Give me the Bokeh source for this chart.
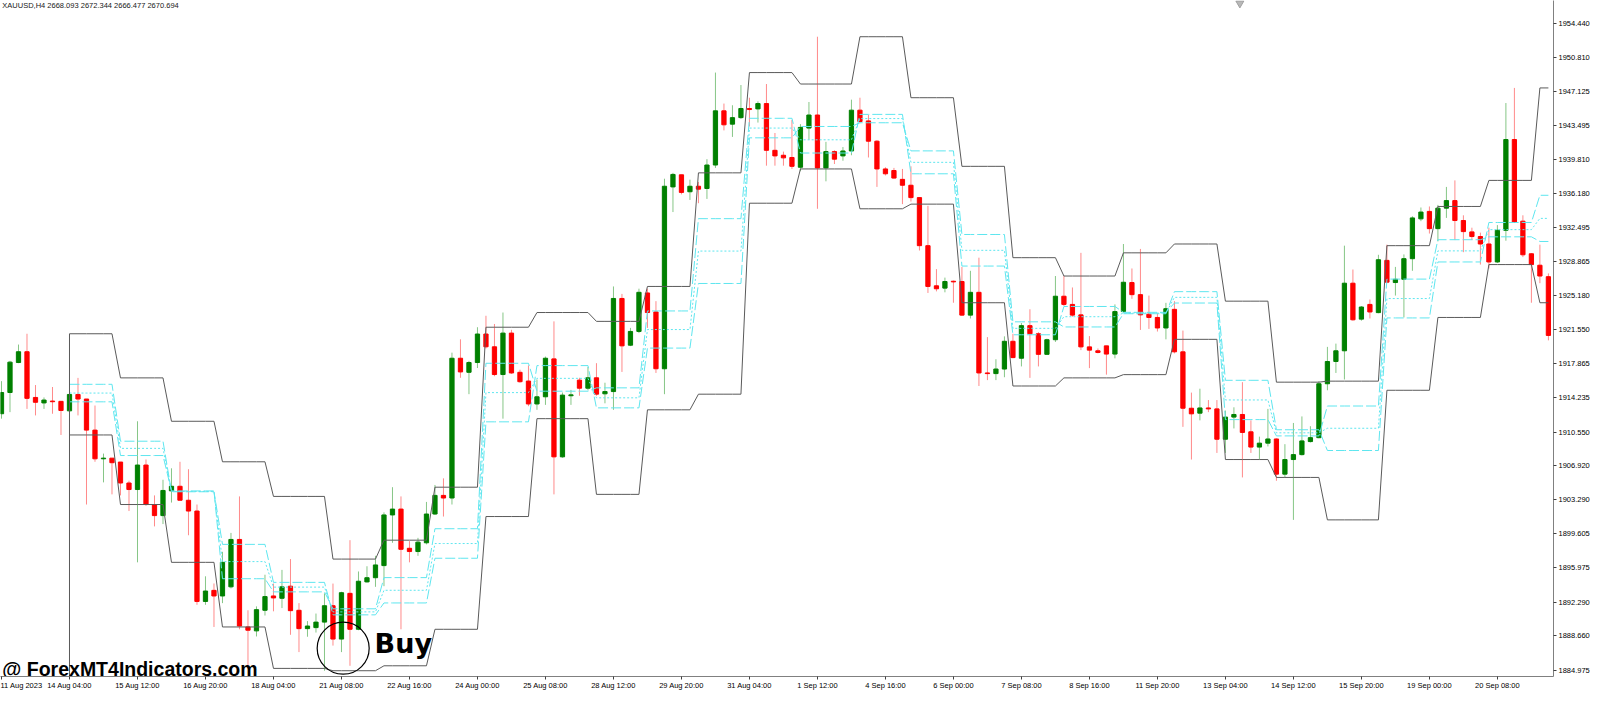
from bokeh.plotting import figure
from bokeh.models import Range1d, FixedTicker, LinearAxis, Label, PrintfTickFormatter, ColumnDataSource
from bokeh.embed import file_html
from bokeh.resources import INLINE
from bokeh.core.properties import value

# ---------------- data (XAUUSD H4) ----------------
opens = [
1912.52, 1914.80, 1918.02, 1919.18, 1914.27, 1913.68, 1913.88, 1913.85, 1912.83, 1914.59,
1914.10, 1910.76, 1907.68, 1907.75, 1907.33, 1905.08, 1904.38, 1907.01, 1902.77, 1901.58,
1904.24, 1904.73, 1903.23, 1902.07, 1892.36, 1893.55, 1892.95, 1893.93, 1899.02, 1889.62,
1889.20, 1891.41, 1892.95, 1892.70, 1894.00, 1891.41, 1889.44, 1889.55, 1890.14, 1891.90,
1888.32, 1893.23, 1889.37, 1894.46, 1894.91, 1896.21, 1901.65, 1902.28, 1898.07, 1897.72,
1898.66, 1901.75, 1903.75, 1903.47, 1918.48, 1916.97, 1918.02, 1921.08, 1919.71, 1916.73,
1921.18, 1916.97, 1916.03, 1913.57, 1914.34, 1918.41, 1907.89, 1914.45, 1916.13, 1915.26,
1916.38, 1914.66, 1914.90, 1924.90, 1919.88, 1921.36, 1925.49, 1923.45, 1917.35, 1936.88,
1938.18, 1936.36, 1936.95, 1936.71, 1939.23, 1945.05, 1943.62, 1944.32, 1945.30, 1945.26,
1945.83, 1940.81, 1940.28, 1940.04, 1938.99, 1943.20, 1944.60, 1938.92, 1940.67, 1940.21,
1940.74, 1945.12, 1943.97, 1941.79, 1938.81, 1938.64, 1937.69, 1937.06, 1935.73, 1930.57,
1926.26, 1926.01, 1926.75, 1926.72, 1923.11, 1925.56, 1916.90, 1916.83, 1917.32, 1920.30,
1918.48, 1921.98, 1921.11, 1918.90, 1920.47, 1925.14, 1924.26, 1923.14, 1919.70, 1919.28,
1919.81, 1918.93, 1923.49, 1926.61, 1925.31, 1923.21, 1922.86, 1921.73, 1923.73, 1919.17,
1913.11, 1912.58, 1913.14, 1913.04, 1909.78, 1912.16, 1912.44, 1910.58, 1908.94, 1909.36,
1909.81, 1906.03, 1907.60, 1908.13, 1909.53, 1909.95, 1915.74, 1918.13, 1919.28, 1926.54,
1922.68, 1924.26, 1923.38, 1928.99, 1926.61, 1926.96, 1929.17, 1933.45, 1934.25, 1932.40,
1934.60, 1935.41, 1933.27, 1932.05, 1931.55, 1930.75, 1928.82, 1932.22, 1941.97, 1933.20,
1929.70, 1928.47, 1927.24]

highs = [
1916.02, 1918.20, 1919.95, 1921.11, 1915.60, 1914.27, 1915.39, 1913.85, 1914.69, 1916.37,
1914.10, 1913.40, 1908.24, 1907.75, 1907.33, 1905.33, 1911.71, 1907.61, 1903.75, 1905.43,
1906.66, 1907.36, 1906.56, 1902.77, 1895.06, 1894.29, 1897.69, 1899.72, 1903.64, 1891.41,
1891.83, 1895.23, 1894.28, 1895.75, 1896.91, 1892.18, 1890.25, 1891.06, 1893.23, 1894.28,
1893.40, 1898.94, 1895.58, 1896.14, 1897.26, 1901.93, 1904.63, 1903.64, 1898.84, 1899.19,
1903.05, 1904.87, 1905.58, 1919.08, 1920.51, 1918.20, 1921.81, 1923.04, 1922.16, 1923.39,
1921.53, 1917.25, 1917.71, 1916.20, 1918.66, 1922.44, 1914.80, 1915.08, 1916.38, 1917.53,
1917.95, 1915.85, 1926.19, 1925.39, 1921.74, 1925.95, 1925.95, 1924.61, 1937.76, 1938.39,
1938.18, 1937.66, 1937.41, 1939.86, 1949.16, 1945.83, 1945.65, 1947.82, 1946.46, 1946.07,
1947.93, 1942.67, 1940.67, 1944.07, 1943.62, 1946.00, 1953.01, 1941.72, 1940.81, 1941.16,
1946.25, 1946.46, 1944.60, 1941.90, 1938.99, 1938.92, 1938.81, 1939.09, 1935.73, 1934.85,
1928.05, 1927.14, 1926.82, 1928.29, 1927.87, 1929.28, 1920.75, 1918.37, 1920.83, 1921.11,
1922.26, 1923.74, 1921.28, 1920.58, 1927.31, 1927.31, 1926.08, 1929.80, 1920.86, 1919.53,
1919.81, 1924.26, 1930.75, 1928.12, 1930.22, 1925.21, 1923.31, 1924.43, 1924.61, 1921.45,
1914.79, 1915.21, 1913.99, 1913.99, 1912.86, 1913.21, 1915.91, 1911.81, 1910.06, 1913.04,
1909.88, 1909.25, 1911.53, 1912.23, 1911.18, 1916.02, 1919.70, 1920.05, 1930.57, 1928.01,
1924.09, 1924.79, 1929.59, 1930.68, 1928.29, 1929.63, 1933.73, 1934.67, 1934.78, 1934.95,
1936.88, 1937.58, 1933.83, 1932.50, 1931.97, 1932.50, 1932.78, 1945.89, 1947.51, 1933.83,
1929.77, 1930.68, 1927.59]

lows = [
1911.99, 1912.69, 1917.95, 1913.04, 1912.34, 1913.04, 1912.52, 1910.24, 1912.76, 1912.34,
1902.77, 1907.36, 1905.15, 1903.86, 1903.75, 1902.07, 1896.56, 1902.63, 1900.42, 1900.67,
1902.98, 1903.23, 1899.47, 1892.00, 1892.00, 1889.62, 1892.18, 1893.76, 1889.37, 1885.17,
1888.60, 1890.85, 1891.30, 1891.65, 1888.78, 1886.92, 1888.57, 1889.02, 1884.92, 1887.62,
1886.92, 1885.45, 1889.27, 1894.39, 1893.93, 1894.00, 1898.66, 1889.37, 1896.56, 1897.26,
1898.49, 1901.65, 1901.48, 1902.77, 1916.38, 1914.62, 1917.43, 1919.53, 1916.55, 1911.99,
1916.80, 1915.85, 1913.33, 1912.94, 1913.47, 1903.86, 1907.79, 1913.47, 1914.45, 1915.04,
1914.45, 1913.64, 1912.94, 1917.01, 1919.78, 1921.18, 1921.74, 1916.90, 1914.62, 1934.18,
1936.08, 1935.48, 1935.13, 1935.59, 1938.92, 1942.95, 1942.25, 1944.18, 1943.37, 1943.79,
1939.16, 1939.16, 1939.16, 1938.81, 1938.57, 1941.97, 1934.53, 1937.48, 1939.34, 1939.69,
1940.28, 1943.72, 1940.04, 1936.88, 1938.11, 1937.76, 1935.03, 1935.31, 1930.05, 1925.49,
1925.66, 1925.56, 1924.44, 1923.03, 1922.75, 1915.50, 1916.13, 1916.13, 1916.44, 1918.48,
1917.60, 1916.37, 1917.60, 1918.90, 1920.23, 1924.09, 1922.93, 1919.35, 1917.42, 1919.00,
1916.72, 1918.47, 1923.38, 1924.86, 1921.52, 1921.63, 1921.35, 1920.51, 1919.00, 1911.11,
1907.60, 1911.81, 1912.69, 1908.31, 1908.31, 1910.94, 1905.68, 1908.31, 1907.60, 1909.01,
1905.32, 1905.68, 1901.12, 1908.03, 1909.43, 1909.88, 1915.04, 1916.90, 1916.20, 1922.51,
1922.51, 1922.75, 1923.31, 1926.54, 1925.21, 1922.86, 1927.87, 1933.20, 1931.87, 1931.03,
1933.55, 1931.17, 1929.87, 1931.17, 1928.54, 1928.12, 1928.71, 1931.10, 1933.03, 1929.34,
1924.44, 1926.54, 1920.40]

closes = [
1914.80, 1918.06, 1919.18, 1914.17, 1913.75, 1913.99, 1913.81, 1912.87, 1914.59, 1914.10,
1910.76, 1907.68, 1907.75, 1907.26, 1905.08, 1904.38, 1907.01, 1902.77, 1901.58, 1904.28,
1904.73, 1903.23, 1902.07, 1892.36, 1893.48, 1892.95, 1896.56, 1899.02, 1889.72, 1889.27,
1891.48, 1892.88, 1892.74, 1893.93, 1891.37, 1889.44, 1889.72, 1890.14, 1891.90, 1888.32,
1893.30, 1889.37, 1894.53, 1894.91, 1896.28, 1901.65, 1902.28, 1897.96, 1897.72, 1898.73,
1901.75, 1903.75, 1903.47, 1918.48, 1917.01, 1918.02, 1921.08, 1919.71, 1916.73, 1921.18,
1916.90, 1915.96, 1913.57, 1914.34, 1918.48, 1907.89, 1914.52, 1914.55, 1915.26, 1916.38,
1914.62, 1914.90, 1924.90, 1919.81, 1921.36, 1925.56, 1923.39, 1917.35, 1936.95, 1938.22,
1936.29, 1936.95, 1936.64, 1939.23, 1945.05, 1943.55, 1944.32, 1945.30, 1945.19, 1945.83,
1940.81, 1940.21, 1940.00, 1939.09, 1943.27, 1944.60, 1938.92, 1940.67, 1939.86, 1940.74,
1945.12, 1943.90, 1941.79, 1938.81, 1938.29, 1937.83, 1937.06, 1935.73, 1930.57, 1926.19,
1925.94, 1926.72, 1926.68, 1923.11, 1925.56, 1916.90, 1916.83, 1917.32, 1920.30, 1918.55,
1921.98, 1921.11, 1918.90, 1920.47, 1925.14, 1924.26, 1923.11, 1919.70, 1919.35, 1919.10,
1918.93, 1923.49, 1926.64, 1925.31, 1923.14, 1922.86, 1921.73, 1923.80, 1919.17, 1913.11,
1912.51, 1913.14, 1913.04, 1909.78, 1912.16, 1912.44, 1910.51, 1908.94, 1909.36, 1909.81,
1906.03, 1907.60, 1908.13, 1909.60, 1909.95, 1915.74, 1918.13, 1919.28, 1926.54, 1922.61,
1923.98, 1923.45, 1929.06, 1926.65, 1926.96, 1929.17, 1933.55, 1934.18, 1932.40, 1934.60,
1935.41, 1933.27, 1932.08, 1931.55, 1930.75, 1928.82, 1932.22, 1941.97, 1933.10, 1929.59,
1928.54, 1927.31, 1920.93]

# time axis labels (one every 8 bars)
tick_bars = [0, 8, 16, 24, 32, 40, 48, 56, 64, 72, 80, 88, 96, 104, 112, 120, 128, 136, 144, 152, 160, 168, 176]
tick_labels = ["11 Aug 2023", "14 Aug 04:00", "15 Aug 12:00", "16 Aug 20:00", "18 Aug 04:00",
               "21 Aug 08:00", "22 Aug 16:00", "24 Aug 00:00", "25 Aug 08:00", "28 Aug 12:00",
               "29 Aug 20:00", "31 Aug 04:00", "1 Sep 12:00", "4 Sep 16:00", "6 Sep 00:00",
               "7 Sep 08:00", "8 Sep 16:00", "11 Sep 20:00", "13 Sep 04:00", "14 Sep 12:00",
               "15 Sep 20:00", "19 Sep 00:00", "20 Sep 08:00"]

price_ticks = [1954.440, 1950.810, 1947.125, 1943.495, 1939.810, 1936.180, 1932.495, 1928.865,
               1925.180, 1921.550, 1917.865, 1914.235, 1910.550, 1906.920, 1903.290, 1899.605,
               1895.975, 1892.290, 1888.660, 1884.975]

# daily channel / pivot levels (bar where each level starts)
day_start = [8, 14, 20, 26, 32, 39, 45, 51, 57, 63, 70, 76, 82, 88, 94, 101, 107, 113, 119,
             125, 132, 138, 144, 150, 156, 163, 169, 175, 181]
upper_levels = [1921.11, 1916.37, 1911.71, 1907.36, 1903.64, 1896.91, 1898.94, 1904.63, 1921.81,
                1923.39, 1922.44, 1926.19, 1938.39, 1949.16, 1947.93, 1953.01, 1946.46, 1939.09,
                1929.28, 1927.31, 1929.80, 1930.75, 1924.61, 1915.91, 1916.02, 1930.57, 1934.78,
                1937.58, 1947.51]
lower_levels = [1910.24, 1902.77, 1896.56, 1889.62, 1885.17, 1884.92, 1885.45, 1889.37, 1901.48,
                1911.99, 1903.86, 1912.94, 1914.62, 1935.13, 1938.81, 1934.53, 1935.03, 1924.44,
                1915.50, 1916.37, 1916.72, 1920.51, 1907.60, 1905.68, 1901.12, 1915.04, 1922.86,
                1928.54, 1924.44]
pivot_levels = [1914.74, 1908.80, 1904.18, 1896.64, 1893.90, 1891.24, 1893.56, 1898.58, 1914.79,
                1916.32, 1914.23, 1921.56, 1929.99, 1943.20, 1941.94, 1944.22, 1939.52, 1930.07,
                1921.69, 1922.94, 1923.34, 1925.02, 1914.00, 1910.47, 1910.96, 1924.89, 1930.01,
                1932.29, 1933.50]
bc_levels = [1915.68, 1909.57, 1904.14, 1898.49, 1894.41, 1890.92, 1892.20, 1897.00, 1911.65,
             1917.69, 1913.15, 1919.57, 1926.51, 1942.15, 1943.37, 1943.77, 1940.75, 1931.77,
             1922.39, 1921.84, 1923.26, 1925.63, 1916.11, 1910.80, 1908.57, 1922.81, 1928.82,
             1933.06, 1935.98]
tc_levels = [1913.80, 1908.03, 1904.23, 1894.80, 1893.39, 1891.57, 1894.92, 1900.17, 1917.94,
             1914.94, 1915.30, 1923.56, 1933.47, 1944.25, 1940.52, 1944.67, 1938.29, 1928.38,
             1921.00, 1924.04, 1923.41, 1924.41, 1911.89, 1910.14, 1913.35, 1926.98, 1931.21,
             1931.52, 1931.02]

# annotations
buy_bar = [40.2]
buy_price = [1887.34]
buy_text_bar = [43.9]
buy_text_price = [1887.8]
shift_marker_bar = [145.7]
header_text = "XAUUSD,H4  2668.093 2672.344 2666.477 2670.694"
watermark_text = "@ ForexMT4Indicators.com"

# ---------------- figure ----------------
Y0, Y1 = 1884.3, 1956.9
X0, X1 = -0.117, 182.6
FONT = "Liberation Sans"

p = figure(width=1592, height=692, output_backend="svg", toolbar_location=None,
           x_range=Range1d(X0, X1), y_range=Range1d(Y0, Y1),
           x_axis_location=None, y_axis_location=None)
p.min_border_left = 0
p.min_border_top = 0
p.min_border_right = 0
p.min_border_bottom = 0
p.outline_line_color = None
p.grid.visible = False
p.background_fill_color = "white"
p.border_fill_color = "white"

n = len(opens)
bars = list(range(n))
up = [c >= o for o, c in zip(opens, closes)]
src = ColumnDataSource(dict(
    x=bars,
    high=highs, low=lows,
    top=[max(o, c) for o, c in zip(opens, closes)],
    bottom=[min(o, c) for o, c in zip(opens, closes)],
    body=["#008000" if u else "#ff0000" for u in up],
    wick=["#86c686" if u else "#ff8a8a" for u in up],
))

p.segment(x0="x", y0="low", x1="x", y1="high", line_color="wick", line_width=1, source=src)
p.vbar(x="x", width=0.5, top="top", bottom="bottom", fill_color="body", line_color="body",
       line_width=1, source=src)

# expand day levels onto the bars they cover
def per_bar(levels):
    xs, ys = [], []
    for j, s in enumerate(day_start):
        e = day_start[j + 1] - 1 if j + 1 < len(day_start) else n - 1
        for k in range(s, e + 1):
            xs.append(k)
            ys.append(levels[j])
    return xs, ys

cx, cup = per_bar(upper_levels)
_, clo = per_bar(lower_levels)
_, cpv = per_bar(pivot_levels)
_, cbc = per_bar(bc_levels)
_, ctc = per_bar(tc_levels)

cyan = "#5ee6ef"
p.line(cx, cbc, line_color=cyan, line_width=1, line_dash="10 3")
p.line(cx, ctc, line_color=cyan, line_width=1, line_dash="10 3")
p.line(cx, cpv, line_color=cyan, line_width=1, line_dash="2 2")

black = "#5a5a5a"
p.line(cx, cup, line_color=black, line_width=1)
p.line(cx, clo, line_color=black, line_width=1)
p.segment(x0=[day_start[0]], y0=[Y0], x1=[day_start[0]], y1=[upper_levels[0]],
          line_color=black, line_width=1)

# Buy signal annotation
p.scatter(x=buy_bar, y=buy_price, marker="circle", size=52, fill_alpha=0,
          line_color="black", line_width=1.2)
p.text(x=buy_text_bar, y=buy_text_price, text=["Buy"], text_font=value("DejaVu Sans"),
       text_font_style="bold", text_font_size="27px", text_color="black",
       text_align="left", text_baseline="middle")

# watermark at the bottom-left
p.text(x=[0.1], y=[Y0 + 0.85], text=[watermark_text], text_font=value(FONT),
       text_font_style="bold", text_font_size="19.5px", text_color="black",
       text_align="left", text_baseline="middle")

# chart-shift marker at the top
p.scatter(x=shift_marker_bar, y=[Y1 - 0.3], marker="inverted_triangle", size=8,
          fill_color="#b8b8b8", line_color="#a0a0a0")

p.add_layout(Label(x=0.1, y=Y1 - 0.1, text=header_text, text_font=FONT,
                   text_font_size="7.5px", text_color="#202020", text_baseline="top"))

# axes
xaxis = LinearAxis(ticker=FixedTicker(ticks=tick_bars),
                   major_label_overrides={b: t for b, t in zip(tick_bars, tick_labels)})
xaxis.major_label_text_align = "left"
yaxis = LinearAxis(ticker=FixedTicker(ticks=price_ticks),
                   formatter=PrintfTickFormatter(format="%.3f"))
for ax in (xaxis, yaxis):
    ax.axis_line_color = "#808080"
    ax.axis_line_width = 1
    ax.major_tick_line_color = "#404040"
    ax.major_tick_in = 0
    ax.major_tick_out = 3
    ax.minor_tick_line_color = None
    ax.major_label_text_font = FONT
    ax.major_label_text_font_size = "7.5px"
    ax.major_label_text_color = "black"
    ax.major_label_standoff = 2
xaxis.major_label_standoff = 1
p.add_layout(xaxis, "below")
p.add_layout(yaxis, "right")

open("out.html", "w").write(file_html(p, INLINE))
